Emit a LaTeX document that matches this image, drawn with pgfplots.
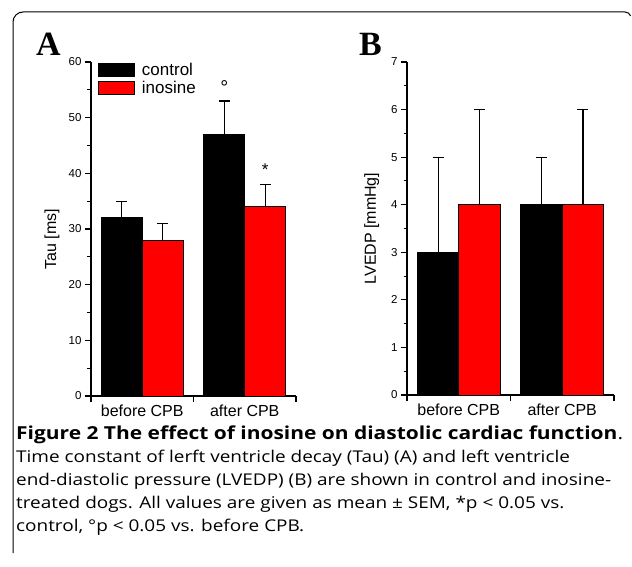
\documentclass[border=0pt]{standalone}
\usepackage{fontspec}
\setmainfont{Liberation Sans}
\newfontfamily\capfont[FakeStretch=1.17]{Open Sans}
\newfontfamily\panelfont{Liberation Serif}
\usepackage{pgfplots}
\pgfplotsset{compat=1.18}
\definecolor{barred}{RGB}{255,0,0}
\pgfplotsset{
  myaxis/.style={
    scale only axis,
    xmin=0, xmax=2, ymin=0,
    axis x line*=bottom, axis y line*=left,
    axis line style={line width=1.1pt},
    every tick/.style={line width=1.1pt, black},
    tick align=outside,
    major tick length=6pt, minor tick length=3.5pt,
    xtick={0,1,2}, xticklabels={},
    extra x ticks={0.5,1.5},
    extra x tick labels={before CPB, after CPB},
    extra x tick style={major tick length=0pt, tick label style={font=\fontsize{16}{16}\selectfont, yshift=-5pt}},
    minor y tick num=1,
    yticklabel style={font=\fontsize{11.5}{12}\selectfont},
    /pgf/number format/assume math mode=true,
    ylabel style={font=\fontsize{16}{16}\selectfont, anchor=center},
    clip=false,
  },
  errs/.style={
    /pgfplots/error bars/y dir=plus, /pgfplots/error bars/y explicit,
    /pgfplots/error bars/error bar style={line width=1.1pt, black},
    /pgfplots/error bars/error mark options={rotate=90, mark size=5.5pt, line width=1.1pt, black}},
  ctrl/.style={ybar, bar width=0.4, bar shift=0, fill=black, draw=black, line width=0.8pt, errs},
  ino/.style={ybar, bar width=0.4, bar shift=0, fill=barred, draw=black, line width=0.8pt, errs},
}
\begin{document}
\begin{tikzpicture}
\path[use as bounding box] (0,0) rectangle (632pt,566pt);
% frame
\draw[line width=1pt] (13pt,13pt) -- (13pt,544pt) arc[start angle=180, end angle=90, radius=10pt] -- (625pt,554pt) arc[start angle=90, end angle=20, radius=6pt];
% panel labels
\node[anchor=base west, inner sep=0pt, font=\panelfont\bfseries\fontsize{34}{34}\selectfont] at (36pt,510pt) {A};
\node[anchor=base west, inner sep=0pt, font=\panelfont\bfseries\fontsize{34}{34}\selectfont] at (359pt,510pt) {B};

\begin{axis}[myaxis,
  at={(91pt,170pt)}, anchor=south west,
  width=205pt, height=334pt,
  ymax=60, ytick={0,10,...,60},
  ylabel={Tau [ms]},
  ylabel style={at={(axis description cs:-0.19,0.47)}},
  legend style={at={(axis description cs:0.034,1.0)}, anchor=north west, draw=none, fill=none,
    font=\fontsize{17}{17}\selectfont, inner sep=0pt, row sep=2pt,
    nodes={inner sep=1pt}},
  legend cell align=left,
]
\addplot[ctrl, legend image code/.code={\draw[fill=black, draw=black, line width=0.8pt] (0pt,-6.5pt) rectangle (36pt,6.5pt);}]
  coordinates {(0.3,32) +- (0,3) (1.3,47) +- (0,6)};
\addlegendentry{\hspace{6pt}control}
\addplot[ino, legend image code/.code={\draw[fill=barred, draw=black, line width=0.8pt] (0pt,-6.5pt) rectangle (36pt,6.5pt);}]
  coordinates {(0.7,28) +- (0,3) (1.7,34) +- (0,4)};
\addlegendentry{\hspace{6pt}inosine}
\node[anchor=base, font=\fontsize{20}{20}\selectfont] at (axis cs:1.3,54.2) {°};
\node[anchor=base, font=\fontsize{17}{17}\selectfont] at (axis cs:1.7,39.6) {*};
\end{axis}

\begin{axis}[myaxis,
  at={(407pt,171pt)}, anchor=south west,
  width=207pt, height=333pt,
  ymax=7, ytick={0,1,...,7},
  ylabel={LVEDP [mmHg]},
  ylabel style={at={(axis description cs:-0.17,0.5)}},
]
\addplot[ctrl] coordinates {(0.3,3) +- (0,2) (1.3,4) +- (0,1)};
\addplot[ino] coordinates {(0.7,4) +- (0,2) (1.7,4) +- (0,2)};
\end{axis}

% caption
\node[anchor=north west, align=left, inner sep=0pt, font=\capfont\fontsize{16.2}{23}\selectfont] at (16pt,140pt)
{{\fontsize{17.9}{23}\selectfont\textbf{Figure 2 The effect of inosine on diastolic cardiac function}.}\\
Time constant of lerft ventricle decay (Tau) (A) and left ventricle\\
end-diastolic pressure (LVEDP) (B) are shown in control and inosine-\\
treated dogs. All values are given as mean ± SEM, *p < 0.05 vs.\\
control, °p < 0.05 vs. before CPB.};
\end{tikzpicture}
\end{document}
